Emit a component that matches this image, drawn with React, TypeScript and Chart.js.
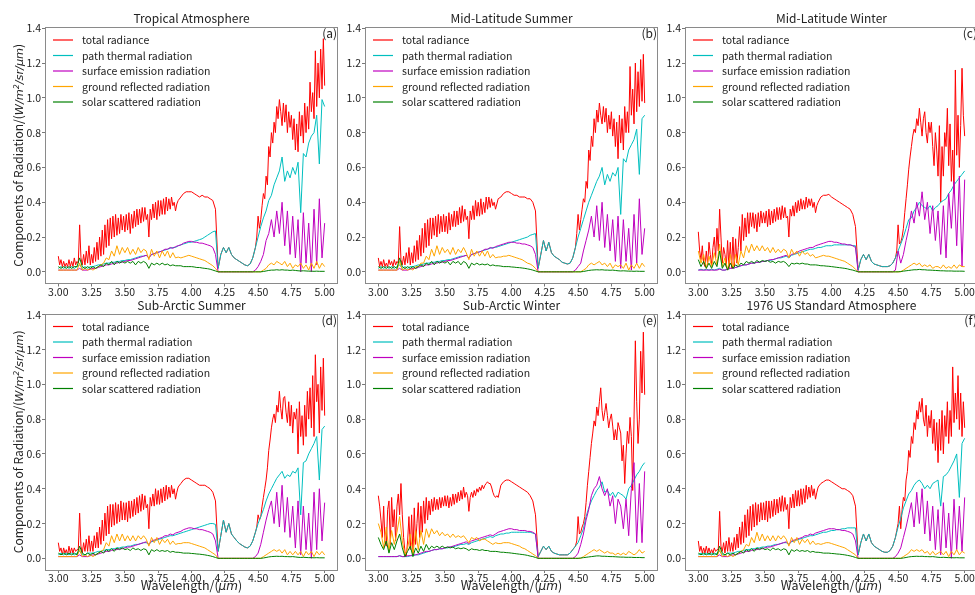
import { useEffect, useRef } from 'react';
import { Chart, registerables } from 'chart.js';
Chart.register(...registerables);

// ---------------- data ----------------
// wavelength grid (µm) for the component series
const wavelengths = [3.00,3.02,3.04,3.06,3.08,3.10,3.12,3.14,3.16,3.18,3.20,3.22,3.24,3.26,3.28,3.30,3.32,3.34,3.36,3.38,3.40,3.42,3.44,3.46,3.48,3.50,3.52,3.54,3.56,3.58,3.60,3.62,3.64,3.66,3.68,3.70,3.72,3.74,3.76,3.78,3.80,3.82,3.84,3.86,3.88,3.90,3.92,3.94,3.96,3.98,4.00,4.02,4.04,4.06,4.08,4.10,4.12,4.14,4.16,4.18,4.20,4.22,4.24,4.26,4.28,4.30,4.32,4.34,4.36,4.38,4.40,4.42,4.44,4.46,4.48,4.50,4.52,4.54,4.56,4.58,4.60,4.62,4.64,4.66,4.68,4.70,4.72,4.74,4.76,4.78,4.80,4.82,4.84,4.86,4.88,4.90,4.92,4.94,4.96,4.98,5.00];
// finer wavelength grid (µm) for the total radiance series
const totalWavelengths = [3.00,3.01,3.02,3.03,3.04,3.05,3.06,3.07,3.08,3.09,3.10,3.11,3.12,3.13,3.14,3.15,3.16,3.17,3.18,3.19,3.20,3.21,3.22,3.23,3.24,3.25,3.26,3.27,3.28,3.29,3.30,3.31,3.32,3.33,3.34,3.35,3.36,3.37,3.38,3.39,3.40,3.41,3.42,3.43,3.44,3.45,3.46,3.47,3.48,3.49,3.50,3.51,3.52,3.53,3.54,3.55,3.56,3.57,3.58,3.59,3.60,3.61,3.62,3.63,3.64,3.65,3.66,3.67,3.68,3.69,3.70,3.71,3.72,3.73,3.74,3.75,3.76,3.77,3.78,3.79,3.80,3.81,3.82,3.83,3.84,3.85,3.86,3.87,3.88,3.89,3.90,3.92,3.94,3.96,3.98,4.00,4.02,4.04,4.06,4.08,4.10,4.12,4.14,4.16,4.18,4.20,4.22,4.24,4.26,4.28,4.30,4.32,4.34,4.36,4.38,4.40,4.42,4.44,4.46,4.48,4.49,4.50,4.51,4.52,4.53,4.54,4.55,4.56,4.57,4.58,4.59,4.60,4.61,4.62,4.63,4.64,4.65,4.66,4.67,4.68,4.69,4.70,4.71,4.72,4.73,4.74,4.75,4.76,4.77,4.78,4.79,4.80,4.81,4.82,4.83,4.84,4.85,4.86,4.87,4.88,4.89,4.90,4.91,4.92,4.93,4.94,4.95,4.96,4.97,4.98,4.99,5.00];
const xTickValues = [3.0, 3.25, 3.5, 3.75, 4.0, 4.25, 4.5, 4.75, 5.0];
const yTickValues = [0.0, 0.2, 0.4, 0.6, 0.8, 1.0, 1.2, 1.4];
const seriesNames = ['total radiance', 'path thermal radiation', 'surface emission radiation', 'ground reflected radiation', 'solar scattered radiation'];
const panelTitles = ['Tropical Atmosphere', 'Mid-Latitude Summer', 'Mid-Latitude Winter', 'Sub-Arctic Summer', 'Sub-Arctic Winter', '1976 US Standard Atmosphere'];
const panelTags = ['(a)', '(b)', '(c)', '(d)', '(e)', '(f)'];

// (a) Tropical
const tropTotal = [0.09,0.04,0.07,0.03,0.06,0.03,0.05,0.03,0.07,0.03,0.06,0.03,0.08,0.04,0.06,0.05,0.27,0.08,0.04,0.10,0.04,0.12,0.05,0.15,0.04,0.10,0.05,0.14,0.06,0.17,0.07,0.20,0.09,0.24,0.10,0.27,0.14,0.30,0.15,0.31,0.19,0.32,0.20,0.33,0.21,0.31,0.22,0.33,0.24,0.32,0.23,0.33,0.24,0.34,0.22,0.33,0.25,0.35,0.26,0.36,0.27,0.36,0.28,0.37,0.29,0.37,0.30,0.33,0.20,0.36,0.30,0.39,0.31,0.40,0.30,0.41,0.32,0.41,0.33,0.42,0.33,0.43,0.35,0.42,0.36,0.43,0.38,0.40,0.35,0.39,0.41,0.43,0.45,0.46,0.46,0.46,0.45,0.44,0.43,0.44,0.43,0.43,0.42,0.41,0.36,0.02,0.10,0.14,0.11,0.14,0.10,0.08,0.07,0.06,0.05,0.04,0.035,0.045,0.08,0.14,0.20,0.32,0.25,0.30,0.38,0.45,0.42,0.55,0.50,0.72,0.66,0.80,0.74,0.86,0.80,0.95,0.88,0.99,0.92,0.84,0.97,0.86,0.96,0.80,0.92,0.83,0.90,0.76,0.88,0.70,0.85,0.69,0.92,0.78,0.90,0.74,0.97,0.80,0.95,0.82,1.09,0.92,1.03,0.88,1.27,0.95,1.20,1.00,1.28,1.05,1.34,1.07];
const tropPath = [0.02,0.03,0.02,0.03,0.02,0.03,0.02,0.03,0.04,0.02,0.03,0.02,0.03,0.03,0.035,0.04,0.04,0.045,0.05,0.05,0.055,0.055,0.06,0.06,0.065,0.065,0.07,0.07,0.075,0.08,0.085,0.09,0.09,0.095,0.08,0.10,0.105,0.11,0.115,0.12,0.125,0.13,0.135,0.14,0.14,0.15,0.155,0.16,0.165,0.17,0.17,0.175,0.18,0.185,0.19,0.20,0.21,0.22,0.23,0.235,0.02,0.10,0.14,0.11,0.14,0.10,0.08,0.07,0.06,0.05,0.04,0.035,0.045,0.08,0.14,0.20,0.26,0.31,0.35,0.41,0.44,0.50,0.54,0.58,0.66,0.52,0.58,0.54,0.60,0.56,0.63,0.34,0.68,0.66,0.74,0.78,0.80,0.90,0.62,0.99,0.95];
const tropSurface = [0.01,0.01,0.01,0.01,0.01,0.01,0.01,0.01,0.02,0.01,0.01,0.01,0.015,0.02,0.02,0.025,0.03,0.035,0.04,0.04,0.045,0.05,0.05,0.055,0.055,0.06,0.065,0.065,0.07,0.075,0.08,0.085,0.09,0.095,0.08,0.10,0.105,0.11,0.115,0.12,0.13,0.13,0.14,0.135,0.145,0.15,0.155,0.165,0.17,0.175,0.175,0.17,0.17,0.165,0.165,0.16,0.155,0.15,0.14,0.10,0,0,0,0,0,0,0,0,0,0,0,0,0,0,0.01,0.03,0.06,0.10,0.18,0.22,0.30,0.20,0.35,0.22,0.40,0.15,0.35,0.10,0.32,0.08,0.30,0.00,0.34,0.05,0.28,0.00,0.36,0.04,0.42,0.08,0.28];
const tropGround = [0.01,0.01,0.01,0.01,0.01,0.01,0.01,0.01,0.05,0.01,0.02,0.01,0.02,0.01,0.02,0.03,0.04,0.05,0.08,0.07,0.12,0.09,0.15,0.10,0.14,0.11,0.14,0.10,0.13,0.10,0.14,0.11,0.13,0.12,0.07,0.13,0.09,0.12,0.08,0.12,0.09,0.12,0.08,0.11,0.08,0.085,0.08,0.085,0.09,0.095,0.09,0.085,0.08,0.075,0.07,0.065,0.055,0.045,0.035,0.02,0,0,0,0,0,0,0,0,0,0,0,0,0,0,0,0,0,0.01,0.02,0.04,0.05,0.04,0.06,0.05,0.04,0.06,0.03,0.05,0.02,0.04,0.03,0.05,0.02,0.04,0.01,0.05,0.02,0.06,0.02,0.05,0.03];
const tropSolar = [0.03,0.02,0.03,0.02,0.03,0.02,0.03,0.03,0.08,0.03,0.02,0.03,0.02,0.03,0.02,0.03,0.04,0.03,0.05,0.04,0.06,0.04,0.06,0.05,0.06,0.05,0.06,0.05,0.06,0.04,0.06,0.05,0.06,0.05,0.02,0.05,0.04,0.05,0.04,0.05,0.04,0.045,0.035,0.04,0.035,0.035,0.035,0.03,0.03,0.03,0.03,0.028,0.025,0.025,0.022,0.02,0.018,0.015,0.01,0.005,0,0,0,0,0,0,0,0,0,0,0,0,0,0,0,0,0,0.002,0.005,0.008,0.01,0.01,0.012,0.01,0.012,0.01,0.01,0.008,0.01,0.008,0.006,0.005,0.006,0.005,0.004,0.004,0.003,0.004,0.003,0.003,0.003];

// (b) Mid-Latitude Summer
const mlsTotal = [0.08,0.03,0.06,0.03,0.07,0.03,0.05,0.03,0.07,0.04,0.06,0.03,0.07,0.04,0.06,0.05,0.26,0.07,0.04,0.09,0.04,0.11,0.05,0.14,0.04,0.11,0.05,0.15,0.06,0.18,0.07,0.21,0.09,0.25,0.11,0.28,0.14,0.30,0.15,0.31,0.19,0.31,0.21,0.32,0.20,0.33,0.22,0.32,0.23,0.33,0.23,0.32,0.22,0.34,0.24,0.33,0.26,0.35,0.26,0.35,0.27,0.37,0.28,0.38,0.29,0.36,0.30,0.32,0.19,0.35,0.30,0.38,0.30,0.41,0.32,0.40,0.32,0.42,0.33,0.40,0.34,0.43,0.36,0.43,0.37,0.42,0.38,0.40,0.36,0.39,0.42,0.43,0.45,0.46,0.46,0.45,0.44,0.44,0.43,0.43,0.43,0.42,0.42,0.40,0.35,0.02,0.10,0.18,0.12,0.17,0.11,0.09,0.08,0.07,0.055,0.05,0.045,0.05,0.08,0.14,0.22,0.33,0.24,0.30,0.36,0.42,0.40,0.52,0.48,0.70,0.64,0.78,0.72,0.88,0.80,0.93,0.86,0.97,0.90,0.85,0.95,0.86,0.94,0.80,0.90,0.82,0.92,0.78,0.88,0.72,0.86,0.65,0.90,0.74,0.88,0.70,0.95,0.80,0.92,0.80,1.18,0.90,1.05,0.85,1.20,0.92,1.15,0.95,1.22,0.98,1.25,0.97];
const mlsPath = [0.02,0.03,0.02,0.03,0.02,0.03,0.02,0.03,0.04,0.02,0.03,0.02,0.03,0.03,0.035,0.04,0.04,0.045,0.05,0.05,0.055,0.055,0.06,0.06,0.065,0.065,0.07,0.07,0.075,0.08,0.085,0.09,0.09,0.095,0.08,0.10,0.105,0.11,0.115,0.12,0.125,0.13,0.135,0.14,0.14,0.145,0.15,0.155,0.16,0.165,0.17,0.175,0.18,0.185,0.19,0.195,0.20,0.21,0.215,0.22,0.02,0.10,0.18,0.12,0.17,0.11,0.09,0.08,0.07,0.055,0.05,0.045,0.05,0.08,0.14,0.20,0.25,0.30,0.35,0.40,0.44,0.48,0.52,0.55,0.60,0.50,0.56,0.52,0.57,0.55,0.60,0.33,0.65,0.63,0.70,0.73,0.76,0.82,0.56,0.88,0.90];
const mlsSurface = [0.01,0.01,0.01,0.01,0.01,0.01,0.01,0.01,0.02,0.01,0.01,0.01,0.015,0.02,0.02,0.025,0.03,0.035,0.04,0.04,0.045,0.05,0.05,0.055,0.055,0.06,0.065,0.065,0.07,0.075,0.08,0.085,0.09,0.095,0.08,0.10,0.105,0.11,0.115,0.12,0.13,0.13,0.14,0.135,0.145,0.15,0.155,0.16,0.165,0.17,0.17,0.17,0.165,0.165,0.16,0.16,0.155,0.15,0.14,0.10,0,0,0,0,0,0,0,0,0,0,0,0,0,0,0.01,0.03,0.05,0.12,0.18,0.24,0.32,0.20,0.38,0.18,0.40,0.14,0.33,0.12,0.30,0.06,0.32,0.02,0.30,0.06,0.25,0.01,0.33,0.05,0.42,0.10,0.25];
const mlsGround = [0.01,0.01,0.01,0.01,0.01,0.01,0.01,0.01,0.06,0.01,0.02,0.01,0.02,0.01,0.03,0.03,0.05,0.05,0.09,0.07,0.13,0.09,0.15,0.10,0.14,0.11,0.13,0.10,0.14,0.10,0.13,0.11,0.14,0.11,0.07,0.13,0.09,0.12,0.09,0.12,0.09,0.12,0.08,0.10,0.08,0.085,0.085,0.09,0.09,0.095,0.09,0.085,0.08,0.075,0.07,0.06,0.05,0.045,0.035,0.02,0,0,0,0,0,0,0,0,0,0,0,0,0,0,0,0,0,0.01,0.02,0.04,0.05,0.04,0.05,0.06,0.04,0.05,0.03,0.05,0.02,0.04,0.03,0.04,0.02,0.05,0.01,0.04,0.02,0.05,0.02,0.05,0.03];
const mlsSolar = [0.03,0.02,0.03,0.02,0.03,0.02,0.03,0.02,0.08,0.03,0.02,0.03,0.02,0.03,0.02,0.03,0.04,0.03,0.05,0.04,0.06,0.04,0.06,0.05,0.06,0.05,0.06,0.04,0.06,0.05,0.06,0.04,0.06,0.05,0.02,0.05,0.04,0.05,0.04,0.045,0.04,0.045,0.035,0.04,0.035,0.035,0.033,0.03,0.03,0.03,0.028,0.027,0.025,0.024,0.022,0.02,0.017,0.014,0.01,0.005,0,0,0,0,0,0,0,0,0,0,0,0,0,0,0,0,0,0.002,0.005,0.008,0.01,0.011,0.012,0.011,0.012,0.01,0.01,0.009,0.01,0.008,0.006,0.005,0.006,0.005,0.004,0.004,0.003,0.004,0.003,0.003,0.003];

// (c) Mid-Latitude Winter
const mlwTotal = [0.23,0.12,0.07,0.15,0.05,0.03,0.12,0.04,0.17,0.10,0.04,0.14,0.20,0.08,0.25,0.12,0.36,0.20,0.05,0.14,0.10,0.03,0.18,0.02,0.17,0.02,0.20,0.03,0.19,0.05,0.14,0.26,0.12,0.33,0.18,0.31,0.20,0.34,0.22,0.34,0.26,0.34,0.25,0.33,0.23,0.34,0.26,0.35,0.28,0.34,0.28,0.35,0.26,0.36,0.27,0.35,0.28,0.36,0.29,0.37,0.30,0.37,0.30,0.38,0.31,0.37,0.31,0.32,0.20,0.36,0.32,0.38,0.32,0.40,0.34,0.41,0.35,0.42,0.36,0.41,0.36,0.43,0.37,0.42,0.38,0.42,0.37,0.40,0.34,0.38,0.40,0.43,0.44,0.44,0.445,0.43,0.42,0.41,0.40,0.39,0.38,0.37,0.36,0.33,0.26,0.01,0.07,0.10,0.07,0.10,0.06,0.045,0.04,0.035,0.03,0.03,0.03,0.035,0.05,0.08,0.12,0.27,0.16,0.17,0.20,0.25,0.34,0.42,0.50,0.59,0.66,0.72,0.78,0.82,0.80,0.88,0.84,0.94,0.86,0.78,0.88,0.92,0.80,0.74,0.86,0.80,0.86,0.72,0.61,0.80,0.70,0.55,0.84,0.40,0.72,0.55,0.80,0.72,0.94,0.61,0.85,0.52,0.70,0.45,1.16,0.67,0.90,0.60,0.84,1.17,0.90,0.78];
const mlwPath = [0.01,0.015,0.01,0.015,0.01,0.015,0.01,0.015,0.02,0.01,0.01,0.015,0.02,0.02,0.025,0.03,0.035,0.04,0.04,0.045,0.05,0.05,0.055,0.055,0.06,0.06,0.065,0.065,0.07,0.075,0.08,0.08,0.085,0.09,0.08,0.095,0.10,0.105,0.11,0.115,0.12,0.125,0.13,0.13,0.135,0.14,0.14,0.145,0.15,0.15,0.15,0.155,0.155,0.155,0.155,0.155,0.155,0.155,0.15,0.15,0.01,0.07,0.10,0.07,0.10,0.06,0.045,0.04,0.035,0.03,0.03,0.03,0.035,0.05,0.08,0.12,0.16,0.20,0.25,0.30,0.31,0.35,0.37,0.40,0.38,0.37,0.36,0.38,0.35,0.37,0.38,0.40,0.41,0.42,0.45,0.47,0.50,0.52,0.54,0.56,0.58];
const mlwSurface = [0.01,0.01,0.01,0.01,0.01,0.01,0.01,0.01,0.015,0.01,0.01,0.015,0.02,0.02,0.025,0.03,0.035,0.04,0.04,0.045,0.05,0.05,0.055,0.055,0.06,0.06,0.065,0.07,0.07,0.075,0.08,0.085,0.09,0.095,0.085,0.10,0.105,0.11,0.12,0.125,0.13,0.135,0.14,0.14,0.15,0.155,0.16,0.165,0.17,0.175,0.175,0.17,0.17,0.165,0.16,0.16,0.155,0.155,0.15,0.14,0,0,0,0,0,0,0,0,0,0,0,0,0,0,0.01,0.12,0.05,0.10,0.18,0.25,0.35,0.28,0.40,0.32,0.46,0.30,0.40,0.22,0.38,0.18,0.35,0.10,0.38,0.08,0.45,0.25,0.52,0.15,0.55,0.03,0.53];
const mlwGround = [0.12,0.05,0.10,0.02,0.09,0.03,0.11,0.04,0.16,0.03,0.08,0.01,0.10,0.02,0.10,0.04,0.12,0.08,0.15,0.11,0.16,0.12,0.15,0.12,0.15,0.12,0.14,0.11,0.14,0.11,0.13,0.11,0.13,0.12,0.08,0.13,0.10,0.12,0.09,0.12,0.10,0.11,0.09,0.10,0.08,0.085,0.09,0.095,0.09,0.09,0.085,0.08,0.075,0.07,0.065,0.06,0.05,0.04,0.03,0.015,0,0,0,0,0,0,0,0,0,0,0,0,0,0,0,0,0,0.01,0.02,0.03,0.04,0.05,0.04,0.05,0.03,0.04,0.03,0.04,0.02,0.03,0.03,0.02,0.04,0.02,0.03,0.02,0.04,0.02,0.04,0.03,0.03];
const mlwSolar = [0.07,0.03,0.06,0.02,0.05,0.02,0.06,0.03,0.12,0.02,0.05,0.01,0.05,0.02,0.04,0.03,0.05,0.04,0.06,0.05,0.06,0.05,0.065,0.055,0.065,0.06,0.065,0.055,0.06,0.05,0.06,0.055,0.06,0.05,0.03,0.05,0.045,0.05,0.045,0.05,0.045,0.045,0.04,0.04,0.04,0.038,0.035,0.035,0.033,0.032,0.03,0.028,0.026,0.024,0.022,0.02,0.017,0.013,0.01,0.005,0,0,0,0,0,0,0,0,0,0,0,0,0,0,0,0,0.002,0.004,0.006,0.008,0.01,0.012,0.012,0.014,0.012,0.012,0.01,0.01,0.009,0.008,0.007,0.006,0.006,0.005,0.005,0.005,0.004,0.004,0.004,0.004,0.003];

// (d) Sub-Arctic Summer
const sasTotal = [0.09,0.04,0.06,0.02,0.06,0.03,0.05,0.02,0.07,0.03,0.06,0.03,0.06,0.04,0.05,0.05,0.26,0.07,0.03,0.09,0.04,0.11,0.04,0.13,0.04,0.10,0.04,0.13,0.06,0.15,0.06,0.18,0.08,0.22,0.10,0.26,0.13,0.30,0.14,0.31,0.18,0.31,0.19,0.32,0.20,0.31,0.21,0.33,0.22,0.32,0.22,0.32,0.21,0.33,0.23,0.33,0.24,0.34,0.25,0.35,0.26,0.36,0.27,0.37,0.28,0.36,0.29,0.31,0.17,0.35,0.30,0.37,0.30,0.40,0.31,0.39,0.31,0.40,0.32,0.41,0.33,0.42,0.34,0.41,0.35,0.42,0.37,0.40,0.34,0.38,0.41,0.43,0.45,0.46,0.46,0.45,0.44,0.43,0.42,0.42,0.42,0.41,0.40,0.38,0.33,0.04,0.13,0.22,0.15,0.20,0.14,0.12,0.10,0.085,0.075,0.065,0.06,0.07,0.10,0.15,0.18,0.25,0.22,0.24,0.30,0.35,0.40,0.45,0.52,0.62,0.68,0.75,0.80,0.83,0.78,0.88,0.84,0.96,0.86,0.80,0.92,0.93,0.84,0.78,0.90,0.76,0.88,0.72,0.84,0.80,0.86,0.60,0.90,0.70,0.82,0.65,0.88,0.70,0.96,0.80,0.98,0.75,1.05,0.70,1.17,0.90,1.00,0.72,1.10,0.85,1.15,0.82];
const sasPath = [0.02,0.03,0.02,0.03,0.02,0.03,0.02,0.03,0.04,0.02,0.02,0.03,0.03,0.03,0.035,0.04,0.04,0.045,0.05,0.05,0.055,0.055,0.06,0.06,0.065,0.065,0.07,0.07,0.075,0.08,0.08,0.085,0.09,0.09,0.08,0.095,0.10,0.105,0.11,0.115,0.12,0.125,0.13,0.13,0.135,0.14,0.145,0.15,0.155,0.16,0.165,0.17,0.175,0.18,0.185,0.19,0.195,0.20,0.20,0.195,0.04,0.13,0.22,0.15,0.20,0.14,0.12,0.10,0.085,0.075,0.065,0.06,0.07,0.10,0.15,0.20,0.24,0.28,0.33,0.37,0.40,0.43,0.46,0.48,0.50,0.46,0.48,0.47,0.50,0.49,0.52,0.25,0.55,0.56,0.60,0.63,0.66,0.70,0.45,0.74,0.76];
const sasSurface = [0.01,0.01,0.01,0.01,0.01,0.01,0.01,0.01,0.02,0.01,0.01,0.01,0.015,0.02,0.02,0.025,0.03,0.035,0.04,0.04,0.045,0.05,0.05,0.055,0.055,0.06,0.065,0.065,0.07,0.075,0.08,0.085,0.09,0.095,0.08,0.10,0.105,0.11,0.115,0.12,0.13,0.13,0.14,0.135,0.145,0.15,0.155,0.165,0.17,0.175,0.175,0.17,0.17,0.165,0.165,0.16,0.155,0.15,0.14,0.10,0,0,0,0,0,0,0,0,0,0,0,0,0,0,0.01,0.03,0.08,0.15,0.22,0.28,0.33,0.20,0.38,0.18,0.42,0.15,0.35,0.12,0.30,0.06,0.33,0.02,0.30,0.05,0.26,0.00,0.38,0.05,0.40,0.10,0.32];
const sasGround = [0.01,0.01,0.01,0.01,0.01,0.01,0.01,0.01,0.05,0.01,0.02,0.01,0.02,0.01,0.02,0.03,0.04,0.05,0.09,0.07,0.13,0.09,0.14,0.10,0.14,0.10,0.13,0.10,0.13,0.10,0.13,0.11,0.13,0.11,0.07,0.12,0.09,0.12,0.08,0.11,0.09,0.11,0.08,0.10,0.08,0.085,0.085,0.09,0.09,0.09,0.085,0.08,0.075,0.07,0.065,0.06,0.05,0.04,0.03,0.02,0,0,0,0,0,0,0,0,0,0,0,0,0,0,0,0,0,0.01,0.02,0.03,0.04,0.05,0.04,0.05,0.03,0.05,0.02,0.04,0.02,0.04,0.02,0.04,0.01,0.04,0.02,0.04,0.01,0.04,0.02,0.04,0.02];
const sasSolar = [0.03,0.02,0.03,0.02,0.03,0.02,0.03,0.02,0.07,0.03,0.02,0.03,0.02,0.03,0.02,0.03,0.04,0.03,0.05,0.04,0.055,0.04,0.06,0.05,0.06,0.05,0.055,0.045,0.06,0.05,0.055,0.045,0.055,0.05,0.02,0.05,0.04,0.05,0.04,0.045,0.04,0.045,0.035,0.04,0.035,0.035,0.033,0.03,0.03,0.03,0.028,0.027,0.025,0.024,0.022,0.02,0.017,0.014,0.01,0.005,0,0,0,0,0,0,0,0,0,0,0,0,0,0,0,0,0,0.002,0.005,0.008,0.01,0.011,0.012,0.011,0.012,0.01,0.01,0.009,0.01,0.008,0.006,0.005,0.006,0.005,0.004,0.004,0.003,0.004,0.003,0.003,0.003];

// (e) Sub-Arctic Winter
const sawTotal = [0.36,0.30,0.22,0.12,0.30,0.10,0.07,0.28,0.33,0.08,0.35,0.18,0.28,0.10,0.30,0.37,0.25,0.43,0.25,0.12,0.04,0.01,0.10,0.24,0.05,0.25,0.03,0.29,0.08,0.20,0.32,0.12,0.30,0.15,0.33,0.20,0.35,0.22,0.33,0.25,0.34,0.27,0.35,0.28,0.34,0.28,0.35,0.29,0.35,0.30,0.36,0.30,0.36,0.29,0.35,0.30,0.37,0.31,0.37,0.32,0.38,0.33,0.39,0.34,0.41,0.35,0.38,0.36,0.27,0.35,0.38,0.35,0.39,0.36,0.40,0.38,0.41,0.39,0.42,0.40,0.42,0.43,0.44,0.43,0.43,0.41,0.38,0.36,0.35,0.36,0.35,0.42,0.44,0.45,0.45,0.44,0.43,0.42,0.41,0.40,0.39,0.38,0.36,0.33,0.25,0.01,0.04,0.07,0.05,0.07,0.04,0.03,0.025,0.02,0.02,0.02,0.02,0.03,0.05,0.07,0.10,0.24,0.14,0.15,0.18,0.20,0.24,0.32,0.42,0.50,0.58,0.66,0.72,0.79,0.76,0.87,0.82,0.90,0.98,0.85,0.79,0.84,0.89,0.82,0.75,0.80,0.83,0.76,0.68,0.74,0.68,0.78,0.75,0.72,0.56,0.65,0.43,0.60,0.73,0.66,0.81,0.70,0.39,0.80,1.25,0.90,0.66,0.80,1.19,0.95,1.30,0.94];
const sawPath = [0.01,0.01,0.01,0.01,0.01,0.01,0.01,0.01,0.015,0.01,0.01,0.01,0.015,0.015,0.02,0.02,0.025,0.03,0.035,0.04,0.045,0.05,0.05,0.055,0.055,0.06,0.06,0.065,0.065,0.07,0.075,0.08,0.08,0.085,0.08,0.09,0.095,0.10,0.105,0.11,0.115,0.12,0.125,0.12,0.13,0.135,0.14,0.14,0.145,0.145,0.15,0.15,0.15,0.15,0.15,0.15,0.15,0.15,0.145,0.14,0.01,0.04,0.07,0.05,0.07,0.04,0.03,0.025,0.02,0.02,0.02,0.02,0.03,0.05,0.07,0.09,0.13,0.17,0.24,0.29,0.33,0.36,0.39,0.41,0.44,0.38,0.39,0.36,0.38,0.35,0.38,0.37,0.36,0.34,0.40,0.42,0.45,0.48,0.50,0.53,0.55];
const sawSurface = [0.01,0.01,0.01,0.01,0.01,0.01,0.01,0.01,0.015,0.01,0.01,0.015,0.015,0.02,0.02,0.025,0.03,0.035,0.04,0.04,0.045,0.05,0.05,0.055,0.055,0.06,0.065,0.065,0.07,0.075,0.08,0.085,0.09,0.095,0.085,0.10,0.105,0.11,0.115,0.12,0.125,0.13,0.135,0.13,0.14,0.15,0.155,0.16,0.165,0.17,0.17,0.165,0.165,0.16,0.16,0.16,0.155,0.155,0.15,0.14,0,0,0,0,0,0,0,0,0,0,0,0,0,0,0.01,0.03,0.08,0.14,0.22,0.28,0.36,0.40,0.42,0.47,0.40,0.36,0.40,0.30,0.36,0.20,0.34,0.30,0.17,0.34,0.13,0.40,0.55,0.09,0.43,0.09,0.50];
const sawGround = [0.20,0.15,0.06,0.18,0.04,0.16,0.08,0.15,0.24,0.10,0.02,0.06,0.14,0.02,0.16,0.05,0.16,0.08,0.17,0.12,0.17,0.14,0.16,0.13,0.15,0.13,0.14,0.12,0.14,0.12,0.13,0.12,0.13,0.11,0.09,0.12,0.11,0.12,0.10,0.11,0.11,0.10,0.09,0.08,0.09,0.085,0.085,0.09,0.09,0.09,0.085,0.08,0.075,0.07,0.06,0.055,0.045,0.035,0.025,0.015,0,0,0,0,0,0,0,0,0,0,0,0,0,0,0,0,0,0.01,0.02,0.03,0.04,0.05,0.04,0.05,0.04,0.03,0.04,0.03,0.03,0.02,0.03,0.02,0.03,0.02,0.04,0.03,0.02,0.03,0.05,0.03,0.04];
const sawSolar = [0.12,0.08,0.05,0.10,0.03,0.09,0.05,0.10,0.14,0.06,0.01,0.04,0.07,0.01,0.06,0.03,0.07,0.04,0.08,0.05,0.07,0.06,0.07,0.06,0.07,0.06,0.065,0.06,0.065,0.055,0.06,0.055,0.06,0.055,0.045,0.055,0.05,0.05,0.045,0.05,0.045,0.045,0.04,0.04,0.04,0.038,0.035,0.035,0.033,0.032,0.03,0.028,0.026,0.024,0.022,0.02,0.017,0.013,0.01,0.005,0,0,0,0,0,0,0,0,0,0,0,0,0,0,0,0,0.002,0.004,0.006,0.008,0.01,0.012,0.014,0.014,0.012,0.012,0.011,0.01,0.01,0.009,0.008,0.007,0.007,0.006,0.006,0.006,0.005,0.005,0.005,0.004,0.004];

// (f) 1976 US Standard
const usTotal = [0.10,0.04,0.07,0.03,0.06,0.03,0.07,0.03,0.06,0.03,0.05,0.03,0.06,0.04,0.05,0.05,0.27,0.07,0.04,0.09,0.03,0.10,0.04,0.12,0.04,0.09,0.04,0.12,0.05,0.14,0.06,0.18,0.08,0.21,0.09,0.25,0.12,0.28,0.13,0.30,0.16,0.31,0.18,0.32,0.19,0.31,0.21,0.32,0.22,0.32,0.22,0.33,0.21,0.33,0.23,0.33,0.24,0.34,0.25,0.34,0.26,0.35,0.27,0.36,0.27,0.35,0.28,0.31,0.17,0.35,0.29,0.37,0.29,0.39,0.30,0.39,0.30,0.40,0.31,0.40,0.32,0.42,0.34,0.41,0.35,0.42,0.36,0.40,0.34,0.38,0.41,0.43,0.44,0.45,0.45,0.44,0.43,0.42,0.41,0.40,0.40,0.39,0.38,0.36,0.30,0.02,0.09,0.14,0.10,0.14,0.09,0.07,0.06,0.05,0.04,0.035,0.035,0.045,0.07,0.12,0.16,0.20,0.30,0.17,0.28,0.35,0.33,0.45,0.50,0.62,0.58,0.70,0.66,0.78,0.74,0.85,0.80,0.90,0.84,0.92,0.80,0.76,0.88,0.70,0.82,0.75,0.85,0.66,0.80,0.62,0.78,0.55,0.80,0.62,0.85,0.60,0.82,0.70,0.90,0.66,0.85,0.70,1.10,0.78,0.95,0.80,1.05,0.74,0.95,0.70,0.90,0.75];
const usPath = [0.02,0.03,0.02,0.03,0.02,0.03,0.02,0.03,0.04,0.02,0.02,0.03,0.03,0.03,0.035,0.04,0.04,0.045,0.05,0.05,0.055,0.055,0.06,0.06,0.065,0.065,0.07,0.07,0.075,0.08,0.08,0.085,0.09,0.09,0.08,0.095,0.10,0.105,0.11,0.115,0.12,0.125,0.13,0.13,0.135,0.14,0.145,0.15,0.15,0.155,0.16,0.16,0.165,0.165,0.17,0.17,0.175,0.175,0.175,0.175,0.02,0.09,0.14,0.10,0.14,0.09,0.07,0.06,0.05,0.04,0.035,0.035,0.045,0.07,0.12,0.18,0.23,0.29,0.33,0.37,0.39,0.42,0.44,0.45,0.43,0.40,0.42,0.40,0.43,0.44,0.45,0.30,0.47,0.48,0.50,0.53,0.56,0.60,0.35,0.66,0.69];
const usSurface = [0.01,0.01,0.01,0.01,0.01,0.01,0.01,0.01,0.02,0.01,0.01,0.01,0.015,0.02,0.02,0.025,0.03,0.035,0.04,0.04,0.045,0.05,0.05,0.055,0.055,0.06,0.065,0.065,0.07,0.075,0.08,0.085,0.09,0.095,0.08,0.10,0.105,0.11,0.115,0.12,0.13,0.13,0.14,0.135,0.145,0.15,0.155,0.16,0.165,0.17,0.17,0.17,0.165,0.165,0.16,0.16,0.155,0.15,0.14,0.10,0,0,0,0,0,0,0,0,0,0,0,0,0,0,0.01,0.03,0.06,0.12,0.18,0.25,0.32,0.18,0.38,0.20,0.40,0.14,0.33,0.10,0.30,0.05,0.28,0.02,0.32,0.06,0.26,0.00,0.34,0.05,0.30,0.04,0.35];
const usGround = [0.01,0.01,0.01,0.01,0.01,0.01,0.01,0.01,0.05,0.01,0.02,0.01,0.02,0.01,0.02,0.03,0.04,0.05,0.08,0.07,0.12,0.09,0.15,0.10,0.14,0.10,0.13,0.10,0.13,0.10,0.13,0.11,0.13,0.11,0.07,0.12,0.09,0.12,0.08,0.11,0.09,0.11,0.08,0.10,0.08,0.085,0.08,0.085,0.09,0.09,0.085,0.08,0.075,0.07,0.065,0.06,0.05,0.04,0.03,0.02,0,0,0,0,0,0,0,0,0,0,0,0,0,0,0,0,0,0.01,0.02,0.03,0.05,0.04,0.05,0.04,0.05,0.03,0.04,0.02,0.04,0.02,0.03,0.04,0.02,0.04,0.01,0.04,0.02,0.05,0.02,0.04,0.03];
const usSolar = [0.03,0.02,0.03,0.02,0.03,0.02,0.03,0.02,0.07,0.03,0.02,0.03,0.02,0.03,0.02,0.03,0.04,0.03,0.05,0.04,0.055,0.04,0.06,0.05,0.06,0.05,0.055,0.045,0.06,0.05,0.055,0.045,0.055,0.05,0.02,0.05,0.04,0.05,0.04,0.045,0.04,0.045,0.035,0.04,0.035,0.035,0.033,0.03,0.03,0.03,0.028,0.027,0.025,0.024,0.022,0.02,0.017,0.014,0.01,0.005,0,0,0,0,0,0,0,0,0,0,0,0,0,0,0,0,0,0.002,0.005,0.008,0.01,0.011,0.012,0.011,0.012,0.01,0.01,0.009,0.01,0.008,0.006,0.005,0.006,0.005,0.004,0.004,0.003,0.004,0.003,0.003,0.003];

const panelSeries = [
  [tropTotal, tropPath, tropSurface, tropGround, tropSolar],
  [mlsTotal, mlsPath, mlsSurface, mlsGround, mlsSolar],
  [mlwTotal, mlwPath, mlwSurface, mlwGround, mlwSolar],
  [sasTotal, sasPath, sasSurface, sasGround, sasSolar],
  [sawTotal, sawPath, sawSurface, sawGround, sawSolar],
  [usTotal, usPath, usSurface, usGround, usSolar],
];

// ---------------- layout & style ----------------
const SERIES_COLORS = ['#ff0000', '#00bfbf', '#bf00bf', '#ffa500', '#008000'];
const FIG_W = 1000;
const FIG_H = 595;
const AX_W = 293;
const AX_H = 256.5;
const COL_L = [45, 365, 685];
const ROW_T = [27, 313.5];
const Y_AXIS_W = 40;
const X_AXIS_H = 20;
const X_MIN = 2.9, X_MAX = 5.1, Y_MIN = -0.067, Y_MAX = 1.407;
const FONT = '"Noto Sans CJK SC", "Noto Sans", sans-serif';
const MATH_FONT = '"DejaVu Sans", sans-serif';
const TEXT_COLOR = '#222';
const SPINE_COLOR = '#8a8a8a';

type Part = [string, 'n' | 'i' | 's'];

function drawRich(ctx: CanvasRenderingContext2D, parts: Part[], size: number, mathSize: number, cx: number, baseline: number) {
  const fontFor = (s: string) =>
    s === 'n' ? `${size}px ${FONT}` : s === 'i' ? `italic ${mathSize}px ${MATH_FONT}` : `italic ${mathSize * 0.7}px ${MATH_FONT}`;
  let total = 0;
  const widths = parts.map(([t, s]) => {
    ctx.font = fontFor(s);
    const w = ctx.measureText(t).width;
    total += w;
    return w;
  });
  let x = cx - total / 2;
  ctx.textAlign = 'left';
  ctx.textBaseline = 'alphabetic';
  parts.forEach(([t, s], i) => {
    ctx.font = fontFor(s);
    ctx.fillText(t, x, s === 's' ? baseline - mathSize * 0.4 : baseline);
    x += widths[i];
  });
}

function Panel({ idx }: { idx: number }) {
  const ref = useRef<HTMLCanvasElement>(null);
  useEffect(() => {
    const col = idx % 3;
    const row = Math.floor(idx / 3);
    const L = COL_L[col];
    const T = ROW_T[row];
    const R = L + AX_W;
    const B = T + AX_H;
    const series = panelSeries[idx];

    const decor = {
      id: 'decor' + idx,
      afterDraw(chart: any) {
        const ctx: CanvasRenderingContext2D = chart.ctx;
        const ca = chart.chartArea;
        ctx.save();
        ctx.strokeStyle = SPINE_COLOR;
        ctx.lineWidth = 1;
        ctx.strokeRect(Math.round(ca.left) + 0.5, Math.round(ca.top) + 0.5, Math.round(ca.right - ca.left) - 1, Math.round(ca.bottom - ca.top) - 1);
        ctx.fillStyle = TEXT_COLOR;
        ctx.font = `12px ${FONT}`;
        ctx.textAlign = 'center';
        ctx.textBaseline = 'alphabetic';
        ctx.fillText(panelTitles[idx], (ca.left + ca.right) / 2, ca.top - 4);
        ctx.font = `12px ${FONT}`;
        ctx.textAlign = 'right';
        ctx.fillText(panelTags[idx], ca.right - 1, ca.top + 11);
        ctx.font = `10.5px ${FONT}`;
        ctx.textAlign = 'left';
        ctx.textBaseline = 'middle';
        seriesNames.forEach((name, k) => {
          const y = ca.top + 13 + 15.5 * k;
          ctx.strokeStyle = SERIES_COLORS[k];
          ctx.lineWidth = 1.2;
          ctx.beginPath();
          ctx.moveTo(ca.left + 8, y);
          ctx.lineTo(ca.left + 28, y);
          ctx.stroke();
          ctx.fillStyle = TEXT_COLOR;
          ctx.fillText(name, ca.left + 37, y + 0.5);
        });
        ctx.fillStyle = TEXT_COLOR;
        if (col === 0) {
          ctx.save();
          ctx.translate(19, (ca.top + ca.bottom) / 2);
          ctx.rotate(-Math.PI / 2);
          drawRich(ctx, [['Components of Radiation/(', 'n'], ['W/m', 'i'], ['2', 's'], ['/sr/μm', 'i'], [')', 'n']], 12, 11.3, 0, 4.3);
          ctx.restore();
        }
        if (row === 1) {
          drawRich(ctx, [['Wavelength/(', 'n'], ['μm', 'i'], [')', 'n']], 12.5, 12, (ca.left + ca.right) / 2, 589.5);
        }
        ctx.restore();
      },
    };

    const chart = new Chart(ref.current as HTMLCanvasElement, {
      type: 'line',
      data: {
        datasets: series.map((arr, k) => {
          const xs = k === 0 ? totalWavelengths : wavelengths;
          return {
            label: seriesNames[k],
            data: xs.map((x, i) => ({ x, y: arr[i] })),
            borderColor: SERIES_COLORS[k],
            backgroundColor: SERIES_COLORS[k],
            borderWidth: 1,
            pointRadius: 0,
            tension: 0,
            fill: false,
            order: 5 - k,
          };
        }),
      },
      options: {
        responsive: false,
        animation: false,
        events: [],
        layout: {
          padding: { left: L - Y_AXIS_W, top: T, right: FIG_W - R, bottom: FIG_H - B - X_AXIS_H },
        },
        plugins: {
          legend: { display: false },
          title: { display: false },
          tooltip: { enabled: false },
        },
        scales: {
          x: {
            type: 'linear',
            min: X_MIN,
            max: X_MAX,
            afterBuildTicks: (s: any) => { s.ticks = xTickValues.map((v) => ({ value: v })); },
            afterFit: (s: any) => { s.height = X_AXIS_H; },
            grid: { drawOnChartArea: false, drawTicks: true, tickLength: 3, tickColor: '#555', tickWidth: 0.8 },
            border: { display: false },
            ticks: {
              autoSkip: false, maxRotation: 0, padding: 0, color: TEXT_COLOR,
              font: { family: FONT, size: 10.5, lineHeight: 1 },
              callback: (v: any) => Number(v).toFixed(2),
            },
          },
          y: {
            type: 'linear',
            min: Y_MIN,
            max: Y_MAX,
            afterBuildTicks: (s: any) => { s.ticks = yTickValues.map((v) => ({ value: v })); },
            afterFit: (s: any) => { s.width = Y_AXIS_W; },
            grid: { drawOnChartArea: false, drawTicks: true, tickLength: 3, tickColor: '#555', tickWidth: 0.8 },
            border: { display: false },
            ticks: {
              autoSkip: false, padding: 1, color: TEXT_COLOR,
              font: { family: FONT, size: 10.5, lineHeight: 1 },
              callback: (v: any) => Number(v).toFixed(1),
            },
          },
        },
      } as any,
      plugins: [decor],
    });
    return () => chart.destroy();
  }, [idx]);
  return (
    <canvas
      ref={ref}
      width={FIG_W}
      height={FIG_H}
      style={{ position: 'absolute', left: 0, top: 0, width: FIG_W, height: FIG_H }}
    />
  );
}

export default function App() {
  return (
    <div style={{ position: 'fixed', left: 0, top: 0, width: 975, height: 595, overflow: 'hidden', background: '#fff' }}>
      {panelTitles.map((_, i) => (
        <Panel key={i} idx={i} />
      ))}
    </div>
  );
}
